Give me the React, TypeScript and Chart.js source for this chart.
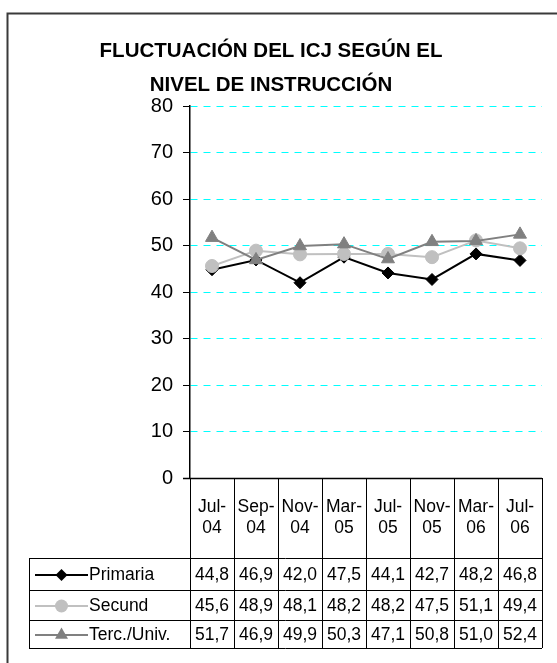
import React, { useEffect, useRef } from 'react';
import { Chart, registerables } from 'chart.js';

Chart.register(...registerables);

const categories: string[][] = [
  ['Jul-', '04'], ['Sep-', '04'], ['Nov-', '04'], ['Mar-', '05'],
  ['Jul-', '05'], ['Nov-', '05'], ['Mar-', '06'], ['Jul-', '06'],
];
const primaria = [44.8, 46.9, 42.0, 47.5, 44.1, 42.7, 48.2, 46.8];
const secund = [45.6, 48.9, 48.1, 48.2, 48.2, 47.5, 51.1, 49.4];
const terc = [51.7, 46.9, 49.9, 50.3, 47.1, 50.8, 51.0, 52.4];
const seriesNames = ['Primaria', 'Secund', 'Terc./Univ.'];
const seriesColors = ['#000000', '#c0c0c0', '#808080'];
const seriesStyles = ['rectRot', 'circle', 'triangle'];
const seriesRadius = [6, 6.5, 7.5];
const titleLines = ['FLUCTUACIÓN DEL ICJ SEGÚN EL', 'NIVEL DE INSTRUCCIÓN'];
const yMin = 0;
const yMax = 80;
const yStep = 10;

const FONT = "'Liberation Sans', Arial, sans-serif";

function drawMarker(ctx: CanvasRenderingContext2D, style: string, x: number, y: number, r: number, color: string) {
  ctx.save();
  ctx.fillStyle = color;
  ctx.beginPath();
  if (style === 'rectRot') {
    ctx.moveTo(x, y - r);
    ctx.lineTo(x + r, y);
    ctx.lineTo(x, y + r);
    ctx.lineTo(x - r, y);
    ctx.closePath();
  } else if (style === 'circle') {
    ctx.arc(x, y, r, 0, Math.PI * 2);
  } else {
    ctx.moveTo(x, y - r);
    ctx.lineTo(x + r * 0.866, y + r * 0.5);
    ctx.lineTo(x - r * 0.866, y + r * 0.5);
    ctx.closePath();
  }
  ctx.fill();
  ctx.restore();
}

const framePlugin = {
  id: 'frame',
  beforeDraw(chart: any) {
    const ctx = chart.ctx as CanvasRenderingContext2D;
    ctx.save();
    ctx.fillStyle = '#ffffff';
    ctx.fillRect(0, 0, chart.width, chart.height);
    ctx.strokeStyle = '#3a3a3a';
    ctx.lineWidth = 2;
    ctx.strokeRect(7.5, 13.5, 700, 800);
    ctx.restore();
  },
};

const tablePlugin = {
  id: 'dataTable',
  afterDraw(chart: any) {
    const ctx = chart.ctx as CanvasRenderingContext2D;
    const xs = chart.scales.x;
    const area = chart.chartArea;
    const half = (xs.getPixelForValue(1) - xs.getPixelForValue(0)) / 2;
    const top = area.bottom;
    const catBottom = top + 80;
    const rowLines = [catBottom, catBottom + 32, catBottom + 62, catBottom + 90];
    const tableLeft = 29;
    const right = area.right;
    const n = categories.length;

    ctx.save();
    ctx.strokeStyle = '#000';
    ctx.beginPath();
    ctx.lineWidth = 1.5;
    ctx.moveTo(area.left - 7, top + 0.5);
    ctx.lineTo(right, top + 0.5);
    ctx.stroke();
    ctx.lineWidth = 1;
    for (let k = 0; k <= n; k++) {
      const bx = Math.round(k === n ? xs.getPixelForValue(n - 1) + half : xs.getPixelForValue(k) - half) + 0.5;
      ctx.beginPath();
      ctx.moveTo(bx, top);
      ctx.lineTo(bx, rowLines[3]);
      ctx.stroke();
    }
    rowLines.forEach((ry) => {
      ctx.beginPath();
      ctx.moveTo(tableLeft, Math.round(ry) + 0.5);
      ctx.lineTo(right, Math.round(ry) + 0.5);
      ctx.stroke();
    });
    ctx.beginPath();
    ctx.moveTo(tableLeft + 0.5, rowLines[0]);
    ctx.lineTo(tableLeft + 0.5, rowLines[3]);
    ctx.stroke();

    ctx.fillStyle = '#000';
    ctx.font = `17.5px ${FONT}`;
    ctx.textAlign = 'center';
    ctx.textBaseline = 'middle';
    categories.forEach((lab, i) => {
      const cx = xs.getPixelForValue(i);
      ctx.fillText(lab[0], cx, top + 29);
      ctx.fillText(lab[1], cx, top + 50);
    });

    const series = [primaria, secund, terc];
    series.forEach((vals, r) => {
      const cy = (rowLines[r] + rowLines[r + 1]) / 2 + 1;
      ctx.textAlign = 'center';
      vals.forEach((v, i) => {
        ctx.fillText(v.toFixed(1).replace('.', ','), xs.getPixelForValue(i), cy);
      });
      ctx.save();
      ctx.strokeStyle = seriesColors[r];
      ctx.lineWidth = 2;
      ctx.beginPath();
      ctx.moveTo(35, cy);
      ctx.lineTo(88, cy);
      ctx.stroke();
      ctx.restore();
      drawMarker(ctx, seriesStyles[r], 61.5, cy, seriesRadius[r], seriesColors[r]);
      ctx.textAlign = 'left';
      ctx.fillStyle = '#000';
      ctx.fillText(seriesNames[r], 89, cy);
    });
    ctx.restore();
  },
};

export default function App() {
  const ref = useRef<HTMLCanvasElement | null>(null);
  useEffect(() => {
    if (!ref.current) return;
    const seriesData = [primaria, secund, terc];
    const chart = new Chart(ref.current, {
      type: 'line',
      data: {
        labels: categories.map((c) => c.join('')),
        datasets: seriesData.map((d, i) => ({
          label: seriesNames[i],
          data: d,
          borderColor: seriesColors[i],
          backgroundColor: seriesColors[i],
          pointBackgroundColor: seriesColors[i],
          pointBorderColor: seriesColors[i],
          pointStyle: seriesStyles[i] as any,
          pointRadius: seriesRadius[i],
          pointBorderWidth: 1,
          borderWidth: 2,
          tension: 0,
          order: 2 - i,
        })),
      },
      options: {
        animation: false,
        responsive: false,
        devicePixelRatio: 1,
        layout: { padding: { left: 0, right: 15, top: 0, bottom: 185 } },
        plugins: {
          legend: { display: false },
          tooltip: { enabled: false },
          title: {
            display: true,
            text: titleLines,
            color: '#000',
            font: { family: FONT, size: 20.5, weight: 'bold', lineHeight: 1.66 },
            padding: { top: 34, bottom: 4 },
          },
        },
        scales: {
          x: {
            type: 'category',
            display: false,
            offset: true,
          },
          y: {
            min: yMin,
            max: yMax,
            afterFit: (scale: any) => {
              scale.width = 190;
            },
            ticks: {
              stepSize: yStep,
              color: '#000',
              padding: 10,
              font: { family: FONT, size: 20 },
            },
            grid: {
              color: '#00ffff',
              lineWidth: 1,
              tickColor: '#000',
              tickLength: 7,
              tickWidth: 1,
            },
            border: { display: true, color: '#000', width: 1.5, dash: [7, 6] },
          },
        },
      },
      plugins: [framePlugin, tablePlugin],
    });
    return () => chart.destroy();
  }, []);
  return (
    <div style={{ position: 'absolute', left: 0, top: 0, width: 557, height: 663 }}>
      <canvas ref={ref} width={557} height={663} />
    </div>
  );
}
